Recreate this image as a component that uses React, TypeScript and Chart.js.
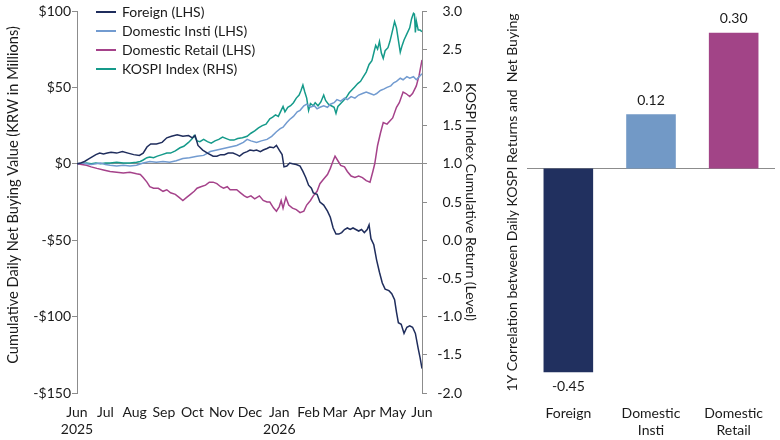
import React, { useEffect, useRef } from "react";
import { Chart, registerables } from "chart.js";

Chart.register(...registerables);

const FONT = "Lato, 'Open Sans', sans-serif";
const INK = "#1a1a1a";
const AXIS = "#8c8c8c";

const NAVY = "#1f2d5c";
const SKY = "#729bd0";
const PLUM = "#a5428a";
const TEAL = "#159a8a";

// x axis: days since 1 Jun 2025
const monthDays = [0, 30, 61, 92, 122, 153, 183, 214, 245, 273, 304, 334, 365];
const monthLabels: (string | string[])[] = [
  ["Jun", "2025"], "Jul", "Aug", "Sep", "Oct", "Nov", "Dec",
  ["Jan", "2026"], "Feb", "Mar", "Apr", "May", "Jun",
];

// [day, KRW mn]
const foreign: [number, number][] = [
  [0, 0], [4, 0.5], [8, 1.5], [12, 3], [16, 4.5], [20, 6], [24, 7], [28, 6.5], [32, 7], [36, 7.5],
  [42, 7], [48, 8], [54, 7], [60, 6], [66, 5.5], [70, 7], [74, 11], [78, 13], [84, 13], [90, 14],
  [95, 17], [100, 18], [106, 19], [112, 18], [118, 18.5], [122, 17], [125, 18.5], [128, 12], [133, 9],
  [138, 7], [144, 5], [148, 5], [152, 6], [156, 6], [160, 7], [165, 7], [169, 6], [172, 5], [176, 7],
  [180, 8], [183, 9], [187, 8.5], [190, 9], [194, 8], [197, 9], [201, 10], [204, 11], [208, 10.5],
  [211, 12], [214, 9], [217, 6], [219, -2], [222, -1.5], [225, 0.5], [228, 0], [232, -0.5], [236, -1.5],
  [239, -5], [242, -9], [245, -14], [248, -16], [250, -19], [254, -20], [257, -25], [261, -27],
  [265, -31], [268, -35], [271, -42], [274, -46], [277, -46], [280, -45], [283, -43], [286, -42],
  [289, -43], [292, -42], [295, -43], [298, -44], [301, -43], [304, -45], [307, -43], [309, -40],
  [311, -49], [314, -53], [317, -63], [320, -71], [323, -78], [326, -82], [330, -83], [333, -85],
  [336, -89], [338, -97], [340, -104], [343, -105], [346, -111], [349, -107], [352, -106], [355, -107],
  [358, -111], [361, -121], [363, -127], [365, -134],
];

const insti: [number, number][] = [
  [0, 0], [5, 0.5], [10, 0], [15, -0.5], [20, 0], [25, 0.5], [30, -0.5], [35, -1], [42, -1.5],
  [49, -1], [56, -1.5], [63, -1], [70, 0.5], [77, 1.5], [84, 1], [91, 1.5], [98, 1], [105, 2],
  [112, 3.5], [119, 4], [127, 5], [134, 5.5], [141, 8], [148, 9], [155, 10], [162, 11], [169, 12],
  [176, 14], [180, 16], [184, 15], [190, 14], [195, 15], [201, 16], [206, 18], [211, 21], [215, 23],
  [218, 24], [222, 27], [225, 29], [229, 31], [233, 34], [236, 35], [240, 38], [243, 39], [247, 37],
  [251, 38], [254, 36], [257, 37], [261, 38], [265, 37], [268, 39], [272, 40], [275, 42], [279, 41],
  [283, 43], [286, 42], [290, 44], [294, 43], [298, 45], [302, 46], [306, 47], [310, 46], [314, 45],
  [317, 46], [321, 48], [325, 49], [328, 50], [332, 51], [335, 53], [338, 54], [342, 56], [345, 55],
  [349, 57], [352, 56], [356, 57], [359, 55], [362, 57], [365, 59],
];

const retail: [number, number][] = [
  [0, 0], [5, -0.5], [10, -1], [15, -2], [21, -3], [28, -4], [35, -5], [42, -5.5], [49, -6], [56, -5.5],
  [63, -6.5], [67, -7], [70, -9], [74, -12], [77, -15], [81, -16], [86, -16], [91, -18], [95, -17],
  [99, -19], [104, -20], [108, -22], [112, -24], [116, -22], [120, -20], [124, -18], [127, -16],
  [131, -15], [136, -14], [140, -12], [144, -12], [148, -13], [152, -15], [155, -16], [159, -15],
  [162, -17], [166, -17], [169, -17], [173, -19], [177, -21], [180, -22], [184, -21], [188, -23],
  [193, -21], [197, -24], [201, -25], [204, -25], [208, -29], [211, -31], [214, -28], [216, -24],
  [218, -29], [221, -22], [224, -27], [228, -29], [232, -30], [236, -32], [240, -31], [243, -27],
  [247, -24], [250, -21], [254, -18], [257, -13], [261, -10], [265, -7], [268, -3], [271, 2], [273, 5],
  [276, 2], [279, -1], [283, -2], [286, -5], [290, -8], [294, -9], [298, -8], [302, -9], [306, -11],
  [310, -12], [313, -5], [315, 0], [318, 12], [321, 20], [324, 27], [328, 26], [331, 28], [334, 30],
  [338, 37], [341, 40], [345, 47], [348, 46], [352, 44], [355, 46], [359, 51], [362, 58], [365, 68],
];

// [day, cumulative return level]
const kospi: [number, number][] = [
  [0, 1.0], [5, 1.0], [10, 1.01], [15, 1.0], [20, 1.01], [25, 1.0], [30, 1.01], [35, 1.01], [42, 1.02],
  [49, 1.01], [56, 1.01], [63, 1.02], [67, 1.03], [70, 1.05], [74, 1.08], [77, 1.09], [81, 1.08],
  [85, 1.1], [90, 1.12], [95, 1.14], [99, 1.14], [104, 1.17], [109, 1.21], [113, 1.23], [118, 1.28],
  [122, 1.33], [124, 1.37], [127, 1.3], [130, 1.29], [134, 1.32], [138, 1.29], [142, 1.27], [146, 1.3],
  [150, 1.32], [154, 1.35], [158, 1.33], [162, 1.31], [166, 1.31], [170, 1.33], [175, 1.34], [180, 1.36],
  [184, 1.4], [188, 1.43], [192, 1.47], [196, 1.5], [200, 1.52], [204, 1.59], [207, 1.61], [210, 1.64],
  [213, 1.62], [216, 1.7], [218, 1.75], [220, 1.68], [223, 1.74], [226, 1.76], [229, 1.8], [232, 1.86],
  [235, 1.9], [237, 1.96], [239, 2.03], [241, 1.94], [243, 1.86], [245, 1.7], [247, 1.79], [250, 1.76],
  [252, 1.8], [255, 1.76], [258, 1.81], [261, 1.9], [263, 1.83], [266, 1.78], [269, 1.76], [272, 1.74],
  [274, 1.66], [276, 1.75], [279, 1.79], [282, 1.83], [285, 1.87], [288, 1.93], [291, 1.97], [294, 2.01],
  [297, 2.05], [300, 2.08], [303, 2.14], [306, 2.2], [309, 2.3], [312, 2.35], [314, 2.45], [316, 2.55],
  [318, 2.5], [320, 2.6], [322, 2.45], [324, 2.38], [326, 2.48], [329, 2.52], [331, 2.6], [333, 2.7],
  [336, 2.86], [338, 2.78], [340, 2.62], [342, 2.46], [344, 2.55], [346, 2.62], [349, 2.7], [352, 2.78],
  [354, 2.9], [356, 2.97], [357, 2.96], [358, 2.72], [359, 2.87], [361, 2.75], [363, 2.75], [365, 2.73],
];

const investorGroups = [["Foreign"], ["Domestic", "Insti"], ["Domestic", "Retail"]];
const correlations = [-0.45, 0.12, 0.3];
const barColors = ["#21305f", "#7299c6", "#a24487"];

const legendItems = [
  { label: "Foreign (LHS)", color: NAVY },
  { label: "Domestic Insti (LHS)", color: SKY },
  { label: "Domestic Retail (LHS)", color: PLUM },
  { label: "KOSPI Index (RHS)", color: TEAL },
];

const leftTitle = "Cumulative Daily Net Buying Value (KRW in Millions)";
const rightTitle = "KOSPI Index Cumulative Return (Level)";
const barTitle = "1Y Correlation between Daily KOSPI Returns and  Net Buying";

Chart.defaults.font.family = FONT;
Chart.defaults.font.size = 14;
Chart.defaults.color = INK;

const toPoints = (s: [number, number][]) => s.map(([x, y]) => ({ x, y }));

// rotated axis titles for the dual-axis chart
const flowTitles = {
  id: "flowTitles",
  afterDraw(chart: any) {
    const { ctx, chartArea } = chart;
    ctx.save();
    ctx.fillStyle = INK;
    ctx.textAlign = "center";
    ctx.textBaseline = "middle";

    ctx.font = `14.6px ${FONT}`;
    ctx.save();
    ctx.translate(13, chartArea.top + 184);
    ctx.rotate(-Math.PI / 2);
    ctx.fillText(leftTitle, 0, 0);
    ctx.restore();

    ctx.font = `14px ${FONT}`;
    ctx.save();
    ctx.translate(471, (chartArea.top + chartArea.bottom) / 2);
    ctx.rotate(Math.PI / 2);
    ctx.fillText(rightTitle, 0, 0);
    ctx.restore();

    ctx.restore();
  },
};

function FlowsChart() {
  const ref = useRef<HTMLCanvasElement>(null);

  useEffect(() => {
    const line = (label: string, data: [number, number][], color: string, axis: string) => ({
      label,
      data: toPoints(data),
      borderColor: color,
      backgroundColor: color,
      borderWidth: 1.5,
      pointRadius: 0,
      tension: 0,
      yAxisID: axis,
    });

    const chart = new Chart(ref.current!, {
      type: "line",
      data: {
        datasets: [
          line("Foreign (LHS)", foreign, NAVY, "y"),
          line("Domestic Insti (LHS)", insti, SKY, "y"),
          line("Domestic Retail (LHS)", retail, PLUM, "y"),
          line("KOSPI Index (RHS)", kospi, TEAL, "y1"),
        ],
      },
      options: {
        responsive: true,
        maintainAspectRatio: false,
        animation: false,
        layout: { padding: { top: 11, right: 20, left: 0, bottom: 0 } },
        plugins: { legend: { display: false }, tooltip: { enabled: false } },
        scales: {
          x: {
            type: "linear",
            min: 0,
            max: 365,
            afterBuildTicks: (scale: any) => {
              scale.ticks = monthDays.map((value) => ({ value }));
            },
            afterFit: (scale: any) => {
              scale.height = 47;
            },
            ticks: {
              autoSkip: false,
              maxRotation: 0,
              padding: 11,
              callback: (_v: any, i: number) => monthLabels[i],
            },
            grid: { display: false, drawTicks: false },
            border: { display: false },
          },
          y: {
            position: "left",
            min: -150,
            max: 100,
            afterFit: (scale: any) => {
              scale.width = 77;
            },
            ticks: {
              stepSize: 50,
              padding: 1,
              callback: (v: any) => (v < 0 ? `-$${-v}` : `$${v}`),
            },
            grid: {
              color: (ctx: any) => (ctx.tick && ctx.tick.value === 0 ? AXIS : "rgba(0,0,0,0)"),
              tickColor: AXIS,
              tickLength: 5,
            },
            border: { color: AXIS },
          },
          y1: {
            position: "right",
            min: -2,
            max: 3,
            afterFit: (scale: any) => {
              scale.width = 40;
            },
            ticks: {
              stepSize: 0.5,
              crossAlign: "far",
              padding: 0,
              callback: (v: any) => Number(v).toFixed(1),
            },
            grid: { drawOnChartArea: false, tickColor: AXIS, tickLength: 5 },
            border: { color: AXIS },
          },
        },
      },
      plugins: [flowTitles],
    } as any);

    return () => {
      chart.destroy();
    };
  }, []);

  return <canvas ref={ref} />;
}

const barValueLabels = {
  id: "barValueLabels",
  afterDatasetsDraw(chart: any) {
    const { ctx } = chart;
    const meta = chart.getDatasetMeta(0);
    ctx.save();
    ctx.font = `14px ${FONT}`;
    ctx.fillStyle = INK;
    ctx.textAlign = "center";
    ctx.textBaseline = "middle";
    meta.data.forEach((bar: any, i: number) => {
      const v = correlations[i];
      ctx.fillText(v.toFixed(2), bar.x, v >= 0 ? bar.y - 14 : bar.y + 14);
    });
    ctx.restore();
  },
};

function CorrelationChart() {
  const ref = useRef<HTMLCanvasElement>(null);

  useEffect(() => {
    const chart = new Chart(ref.current!, {
      type: "bar",
      data: {
        labels: investorGroups,
        datasets: [
          {
            data: correlations,
            backgroundColor: barColors,
            barPercentage: 0.6,
            categoryPercentage: 1,
          },
        ],
      },
      options: {
        responsive: true,
        maintainAspectRatio: false,
        animation: false,
        layout: { padding: { top: 10, right: 5, left: 0, bottom: 0 } },
        plugins: { legend: { display: false }, tooltip: { enabled: false } },
        scales: {
          x: {
            afterFit: (scale: any) => {
              scale.height = 45;
            },
            ticks: { padding: 10, maxRotation: 0, autoSkip: false },
            grid: { display: false, drawTicks: false },
            border: { display: false },
          },
          y: {
            min: -0.5,
            max: 0.35,
            afterFit: (scale: any) => {
              scale.width = 27;
            },
            ticks: { display: false, stepSize: 0.05 },
            grid: {
              color: (ctx: any) =>
                ctx.tick && Math.abs(ctx.tick.value) < 1e-9 ? AXIS : "rgba(0,0,0,0)",
              drawTicks: false,
            },
            border: { display: false },
            title: {
              display: true,
              text: barTitle,
              padding: 4,
            },
          },
        },
      },
      plugins: [barValueLabels],
    } as any);

    return () => {
      chart.destroy();
    };
  }, []);

  return <canvas ref={ref} />;
}

export default function App() {
  return (
    <div
      style={{
        position: "fixed",
        left: 0,
        top: 0,
        width: 780,
        height: 440,
        background: "#fff",
        fontFamily: FONT,
      }}
    >
      <div style={{ position: "absolute", left: 0, top: 0, width: 482, height: 440 }}>
        <FlowsChart />
      </div>
      <div
        style={{
          position: "absolute",
          left: 96,
          top: 2,
          fontSize: 14,
          lineHeight: "19px",
          color: INK,
        }}
      >
        {legendItems.map((item) => (
          <div key={item.label} style={{ display: "flex", alignItems: "center" }}>
            <span
              style={{
                display: "inline-block",
                width: 20,
                height: 2,
                background: item.color,
                marginRight: 6,
              }}
            />
            {item.label}
          </div>
        ))}
      </div>
      <div style={{ position: "absolute", left: 500, top: 0, width: 280, height: 440 }}>
        <CorrelationChart />
      </div>
    </div>
  );
}
